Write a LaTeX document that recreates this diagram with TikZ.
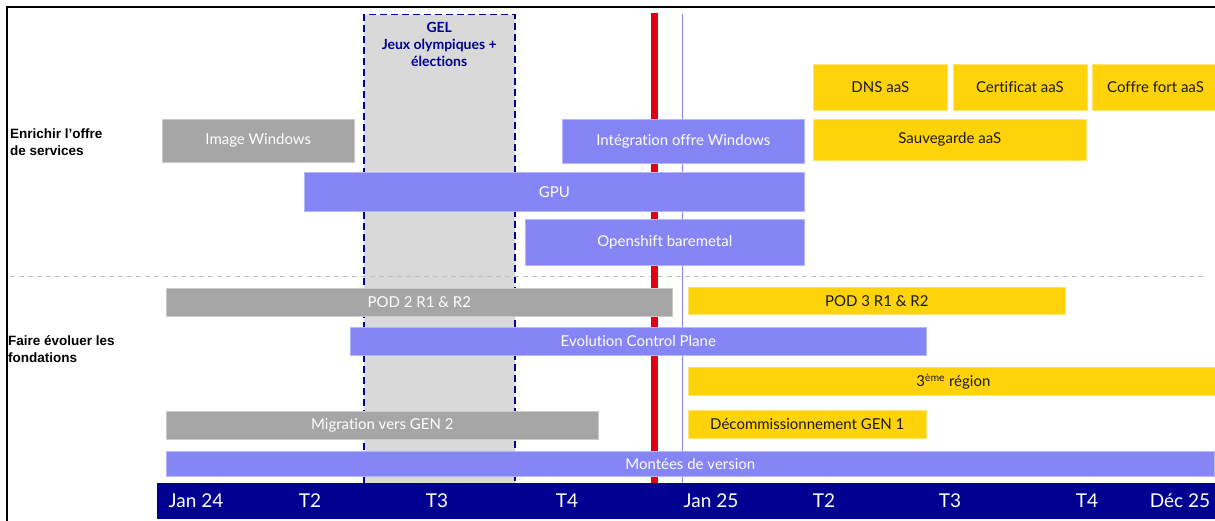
\documentclass[tikz,border=0pt]{standalone}
\usepackage{fontspec}
\setmainfont{Lato}[Ligatures={NoCommon}]
\newfontfamily\arialfont{Liberation Sans}
\usepackage{xcolor}
\usetikzlibrary{positioning}
\definecolor{navyT}{HTML}{000091}
\definecolor{bleuT}{HTML}{8585F6}
\definecolor{grisT}{HTML}{A6A6A6}
\definecolor{jauneT}{HTML}{FED30A}
\definecolor{rougeT}{HTML}{E1000F}
\definecolor{gelfond}{HTML}{D9D9D9}
\tikzset{
  task/.style={rectangle, fill=#1, draw=#1!60!white, line width=0.6pt,
               inner sep=0pt, anchor=north west, text=white,
               font=\fontsize{15}{17}\selectfont},
  task/.default=bleuT,
  ytask/.style={task=jauneT, text=black!90},
  axis/.style={font=\fontsize{19}{21}\selectfont, text=white},
  rowlbl/.style={font=\arialfont\bfseries\fontsize{13.5}{16.5}\selectfont,
                 align=left, anchor=west, inner sep=0pt},
}

\begin{document}
\begin{tikzpicture}[x=1pt, y=-1pt]
  \useasboundingbox (0,0) rectangle (1215,521);
  %% frame and background
  \draw[line width=1.6pt] (1215,7) -- (7,7) -- (7,521);
  \shade[top color=white, middle color=black!14, bottom color=white]
    (156,30) rectangle (651,483);
  \node[draw=navyT, dash pattern=on 7pt off 4pt, line width=1.5pt,
        fill=gelfond, inner sep=0pt, anchor=north west,
        minimum width=151pt, minimum height=469pt]
    (gel) at (363,14) {};
  \node[below=8pt of gel.north, text=navyT, align=center,
        font=\bfseries\fontsize{14}{17}\selectfont, inner sep=0pt]
    (gellbl) {GEL\\Jeux olympiques +\\élections};
  \draw[black!25, dash pattern=on 5pt off 4pt] (10,276) -- (1205,276);
  \draw[rougeT, line width=7pt] (654.5,13) -- (654.5,483);
  \draw[bleuT, line width=1pt] (682.5,14) -- (682.5,483);
  %% row labels
  \node[rowlbl] (enrichir) at (10,142) {Enrichir l’offre\\de services};
  \node[rowlbl] (fondations) at (8,349) {Faire évoluer les\\fondations};
  %% Enrichir l'offre de services
  \node[ytask, minimum width=134pt, minimum height=46pt] (dns) at (813,64) {DNS aaS};
  \node[ytask, minimum width=134pt, minimum height=46pt, right=5pt of dns.north east, anchor=north west] (cert) {Certificat aaS};
  \node[ytask, minimum width=126pt, minimum height=46pt, right=5pt of cert.north east, anchor=north west] (coffre) {Coffre fort aaS};
  \node[task=grisT, minimum width=192pt, minimum height=43pt] (imgwin) at (162,119) {Image Windows};
  \node[task, minimum width=242pt, minimum height=44pt] (integ) at (562,119) {Intégration offre Windows};
  \node[ytask, minimum width=273pt, minimum height=41pt] (sauve) at (813,119) {Sauvegarde aaS};
  \node[task, minimum width=500pt, minimum height=39pt] (gpu) at (304,172) {GPU};
  \node[task, minimum width=279pt, minimum height=46pt] (openshift) at (525,219) {Openshift baremetal};
  %% Faire evoluer les fondations
  \node[task=grisT, minimum width=506pt, minimum height=28pt] (pod2) at (166,288) {POD 2 R1 \& R2};
  \node[ytask, minimum width=377pt, minimum height=27pt] (pod3) at (688,287) {POD 3 R1 \& R2};
  \node[task, minimum width=576pt, minimum height=28pt] (ecp) at (350,327) {Evolution Control Plane};
  \node[ytask, minimum width=530pt, minimum height=28pt] (region) at (688,367) {3\textsuperscript{ème} région};
  \node[task=grisT, minimum width=432pt, minimum height=28pt] (migr) at (166,411) {Migration vers GEN 2};
  \node[ytask, minimum width=238pt, minimum height=28pt] (decom) at (688,410) {Décommissionnement GEN 1};
  \node[task, minimum width=1048pt, minimum height=25pt] (montees) at (166,451) {Montées de version};
  %% time axis
  \node[fill=navyT, inner sep=0pt, anchor=north west, minimum width=1060pt,
        minimum height=36pt] (axe) at (157,483) {};
  \foreach \x/\t in {196/Jan 24, 310/T2, 437/T3, 567/T4, 711/Jan 25,
                     824/T2, 950/T3, 1087/T4, 1180/Déc 25}
    \node[axis] (t\x) at (\x,501) {\t};
\end{tikzpicture}
\end{document}
